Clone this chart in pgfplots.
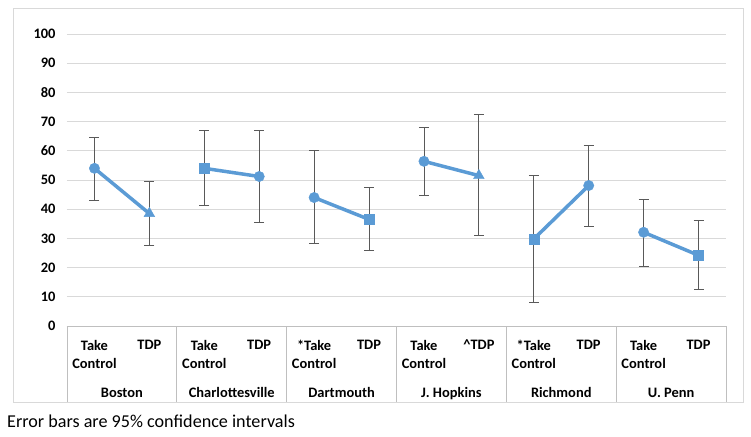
\documentclass[border=0pt]{standalone}
\usepackage{pgfplots}
\pgfplotsset{compat=1.18}
\usepackage{fontspec}
\setmainfont{Carlito}
\definecolor{xblue}{HTML}{5B9BD5}
\definecolor{ebar}{HTML}{595959}
\definecolor{gridc}{HTML}{D9D9D9}
\definecolor{axc}{HTML}{BFBFBF}
\definecolor{framec}{HTML}{D9D9D9}

\pgfplotstableread{
x y ep em
0 54.0 10.7 11.0
1 38.5 10.9 11.0
2 54.0 13.0 12.8
3 51.2 15.8 15.6
4 44.0 16.1 15.6
5 36.5 10.8 10.7
6 56.4 11.6 11.8
7 51.5 20.8 20.5
8 29.8 21.7 21.6
9 48.1 13.9 14.1
10 32.1 11.4 11.6
11 24.2 11.8 11.8
}\ebtable

\begin{document}
\begin{tikzpicture}
\path[draw=framec, line width=0.8bp] (13bp,35bp) rectangle (743bp,429bp);
\begin{axis}[
  at={(67bp,111bp)}, anchor=south west,
  scale only axis, width=659bp, height=292bp,
  xmin=-0.5, xmax=11.5, ymin=0, ymax=100,
  ytick={0,10,...,100},
  ymajorgrids, major grid style={gridc, line width=0.9bp},
  axis x line*=bottom, axis y line*=left,
  x axis line style={axc, line width=0.9bp, -},
  y axis line style={draw=none},
  xtick={0,...,11},
  xticklabels={{Take\\Control},TDP,{Take\\Control},TDP,{*Take\\Control},TDP,{Take\\Control},\textasciicircum TDP,{*Take\\Control},TDP,{Take\\Control},TDP},
  xticklabel style={align=center, anchor=north, font=\fontsize{14.5}{18.3}\selectfont\bfseries, yshift=-10.5bp},
  yticklabel={\bfseries\pgfmathprintnumber{\tick}},
  yticklabel style={font=\fontsize{14.5}{17}\selectfont\bfseries, xshift=-8bp},
  /pgf/number format/assume math mode=true,
  major tick length=0pt,
  tick style={draw=none},
  clip=false,
]
\addplot[draw=none, mark=none, error bars/.cd, y dir=both, y explicit,
  error bar style={ebar, line width=0.9bp},
  error mark options={ebar, line width=0.9bp, mark size=5bp, rotate=90}]
  table[x=x, y=y, y error plus=ep, y error minus=em]{\ebtable};
\addplot[xblue, line width=3.5bp, mark=none] coordinates {(0,54.0) (1,38.5)};
\addplot[xblue, line width=3.5bp, mark=none] coordinates {(2,54.0) (3,51.2)};
\addplot[xblue, line width=3.5bp, mark=none] coordinates {(4,44.0) (5,36.5)};
\addplot[xblue, line width=3.5bp, mark=none] coordinates {(6,56.4) (7,51.5)};
\addplot[xblue, line width=3.5bp, mark=none] coordinates {(8,29.8) (9,48.1)};
\addplot[xblue, line width=3.5bp, mark=none] coordinates {(10,32.1) (11,24.2)};
\addplot[only marks, mark=*, mark size=5.2bp, mark options={fill=xblue, draw=xblue}] coordinates {(0,54.0) (3,51.2) (4,44.0) (6,56.4) (9,48.1) (10,32.1)};
\addplot[only marks, mark=square*, mark size=5bp, mark options={fill=xblue, draw=xblue}] coordinates {(2,54.0) (5,36.5) (8,29.8) (11,24.2)};
\addplot[only marks, mark=triangle*, mark size=6.2bp, mark options={fill=xblue, draw=xblue}] coordinates {(1,38.5) (7,51.5)};
\foreach \b in {-0.5,1.5,3.5,5.5,7.5,9.5,11.5} {
  \edef\tmp{\noexpand\draw[axc, line width=0.9bp] (axis cs:\b,0) -- ([yshift=-76bp]axis cs:\b,0);}\tmp
}
\foreach \c/\n in {0.5/Boston,2.5/Charlottesville,4.5/Dartmouth,6.5/J. Hopkins,8.5/Richmond,10.5/U. Penn} {
  \edef\tmp{\noexpand\node[anchor=base, inner sep=0, font=\noexpand\fontsize{14.5}{17}\noexpand\selectfont\noexpand\bfseries] at ([yshift=-71.4bp]axis cs:\c,0) {\n};}\tmp
}
\end{axis}
\node[anchor=base west, inner sep=0, font=\fontsize{18.2}{22}\selectfont] at (7bp,9.5bp) {Error bars are 95\% confidence intervals};
\pgfresetboundingbox
\path[use as bounding box] (0,0) rectangle (751bp,437bp);
\end{tikzpicture}
\end{document}
